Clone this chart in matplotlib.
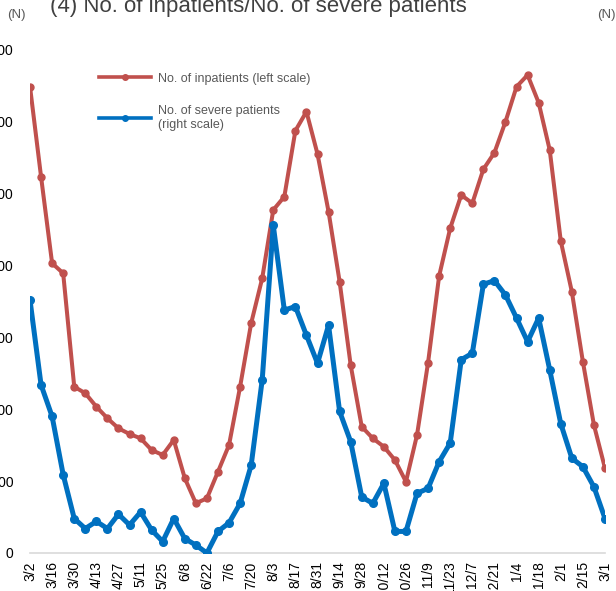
import numpy as np
import matplotlib
matplotlib.use('Agg')
import matplotlib.pyplot as plt

plt.rcParams['font.family'] = ['Liberation Sans', 'DejaVu Sans']

# weekly data, 3/2 .. 3/1 (53 weeks)
inpatients = [6490, 5237, 4032, 3893, 2314, 2223, 2036, 1875, 1735, 1656,
              1596, 1433, 1364, 1573, 1040, 692, 761, 1131, 1503, 2314,
              3197, 3823, 4774, 4959, 5877, 6142, 5553, 4750, 3776, 2616,
              1758, 1596, 1479, 1294, 992, 1642, 2651, 3855, 4519, 4982,
              4867, 5340, 5571, 6002, 6489, 6652, 6267, 5609, 4342, 3637,
              2662, 1781, 1179]
severe = [352, 234, 190, 109, 48, 34, 44, 34, 54, 39,
          57, 32, 16, 48, 20, 11, 0, 30, 42, 69,
          122, 241, 456, 338, 343, 303, 264, 317, 197, 155,
          78, 69, 97, 30, 30, 83, 90, 127, 153, 269,
          278, 374, 379, 359, 327, 294, 327, 255, 180, 132,
          120, 92, 48]
tick_labels = ['3/2', '3/16', '3/30', '4/13', '4/27', '5/11', '5/25', '6/8',
               '6/22', '7/6', '7/20', '8/3', '8/17', '8/31', '9/14', '9/28',
               '10/12', '10/26', '11/9', '11/23', '12/7', '12/21', '1/4',
               '1/18', '2/1', '2/15', '3/1']

red = '#C0504D'
blue = '#0070C0'
grey = '#595959'

x = np.arange(len(inpatients))

fig = plt.figure(figsize=(6.16, 5.91), dpi=100)
ax = fig.add_axes([30/616, 38/591, 575/616, 503/591])
ax2 = ax.twinx()

l1, = ax.plot(x, inpatients, color=red, lw=2.9, marker='o', ms=5)
l2, = ax2.plot(x, severe, color=blue, lw=3.6, marker='o', ms=5.5)

ax.set_xlim(0, len(x) - 1)
ax.set_ylim(0, 7000)
ax2.set_ylim(0, 700)
ax.set_yticks(np.arange(0, 7001, 1000))
ax.set_yticklabels(['{:,}'.format(v) for v in range(0, 7001, 1000)])
ax2.set_yticks(np.arange(0, 701, 100))

ax.set_xticks(x[::2])
ax.set_xticklabels(tick_labels, rotation=90)

for a in (ax, ax2):
    for s in a.spines.values():
        s.set_visible(False)
    a.tick_params(length=0, labelsize=10, colors='black')
ax.tick_params(axis='y', pad=12)
ax.tick_params(axis='x', pad=6)
ax2.tick_params(axis='y', pad=12)
ax.spines['bottom'].set_visible(True)
ax.spines['bottom'].set_color('#D9D9D9')
ax.spines['bottom'].set_linewidth(1.2)

leg = ax.legend([l1, l2], ['No. of inpatients (left scale)',
                           'No. of severe patients\n(right scale)'],
                loc='upper left', bbox_to_anchor=(0.1, 0.977), frameon=False,
                fontsize=9, handlelength=4.2, labelspacing=1.6,
                handletextpad=0.5)
for t in leg.get_texts():
    t.set_color(grey)
for h in leg.legend_handles:
    h.set_markersize(4)
    h.set_linewidth(2.6)

fig.text(258/616, 1 - 12/591, '(4) No. of inpatients/No. of severe patients',
         ha='center', va='baseline', fontsize=16, color='#404040')
fig.text(16/616, 1 - 15/591, '(N)', ha='center', va='center', fontsize=9.5,
         color=grey)
fig.text(606/616, 1 - 15/591, '(N)', ha='center', va='center', fontsize=9.5,
         color=grey)

fig.savefig('out.png', dpi=100)
